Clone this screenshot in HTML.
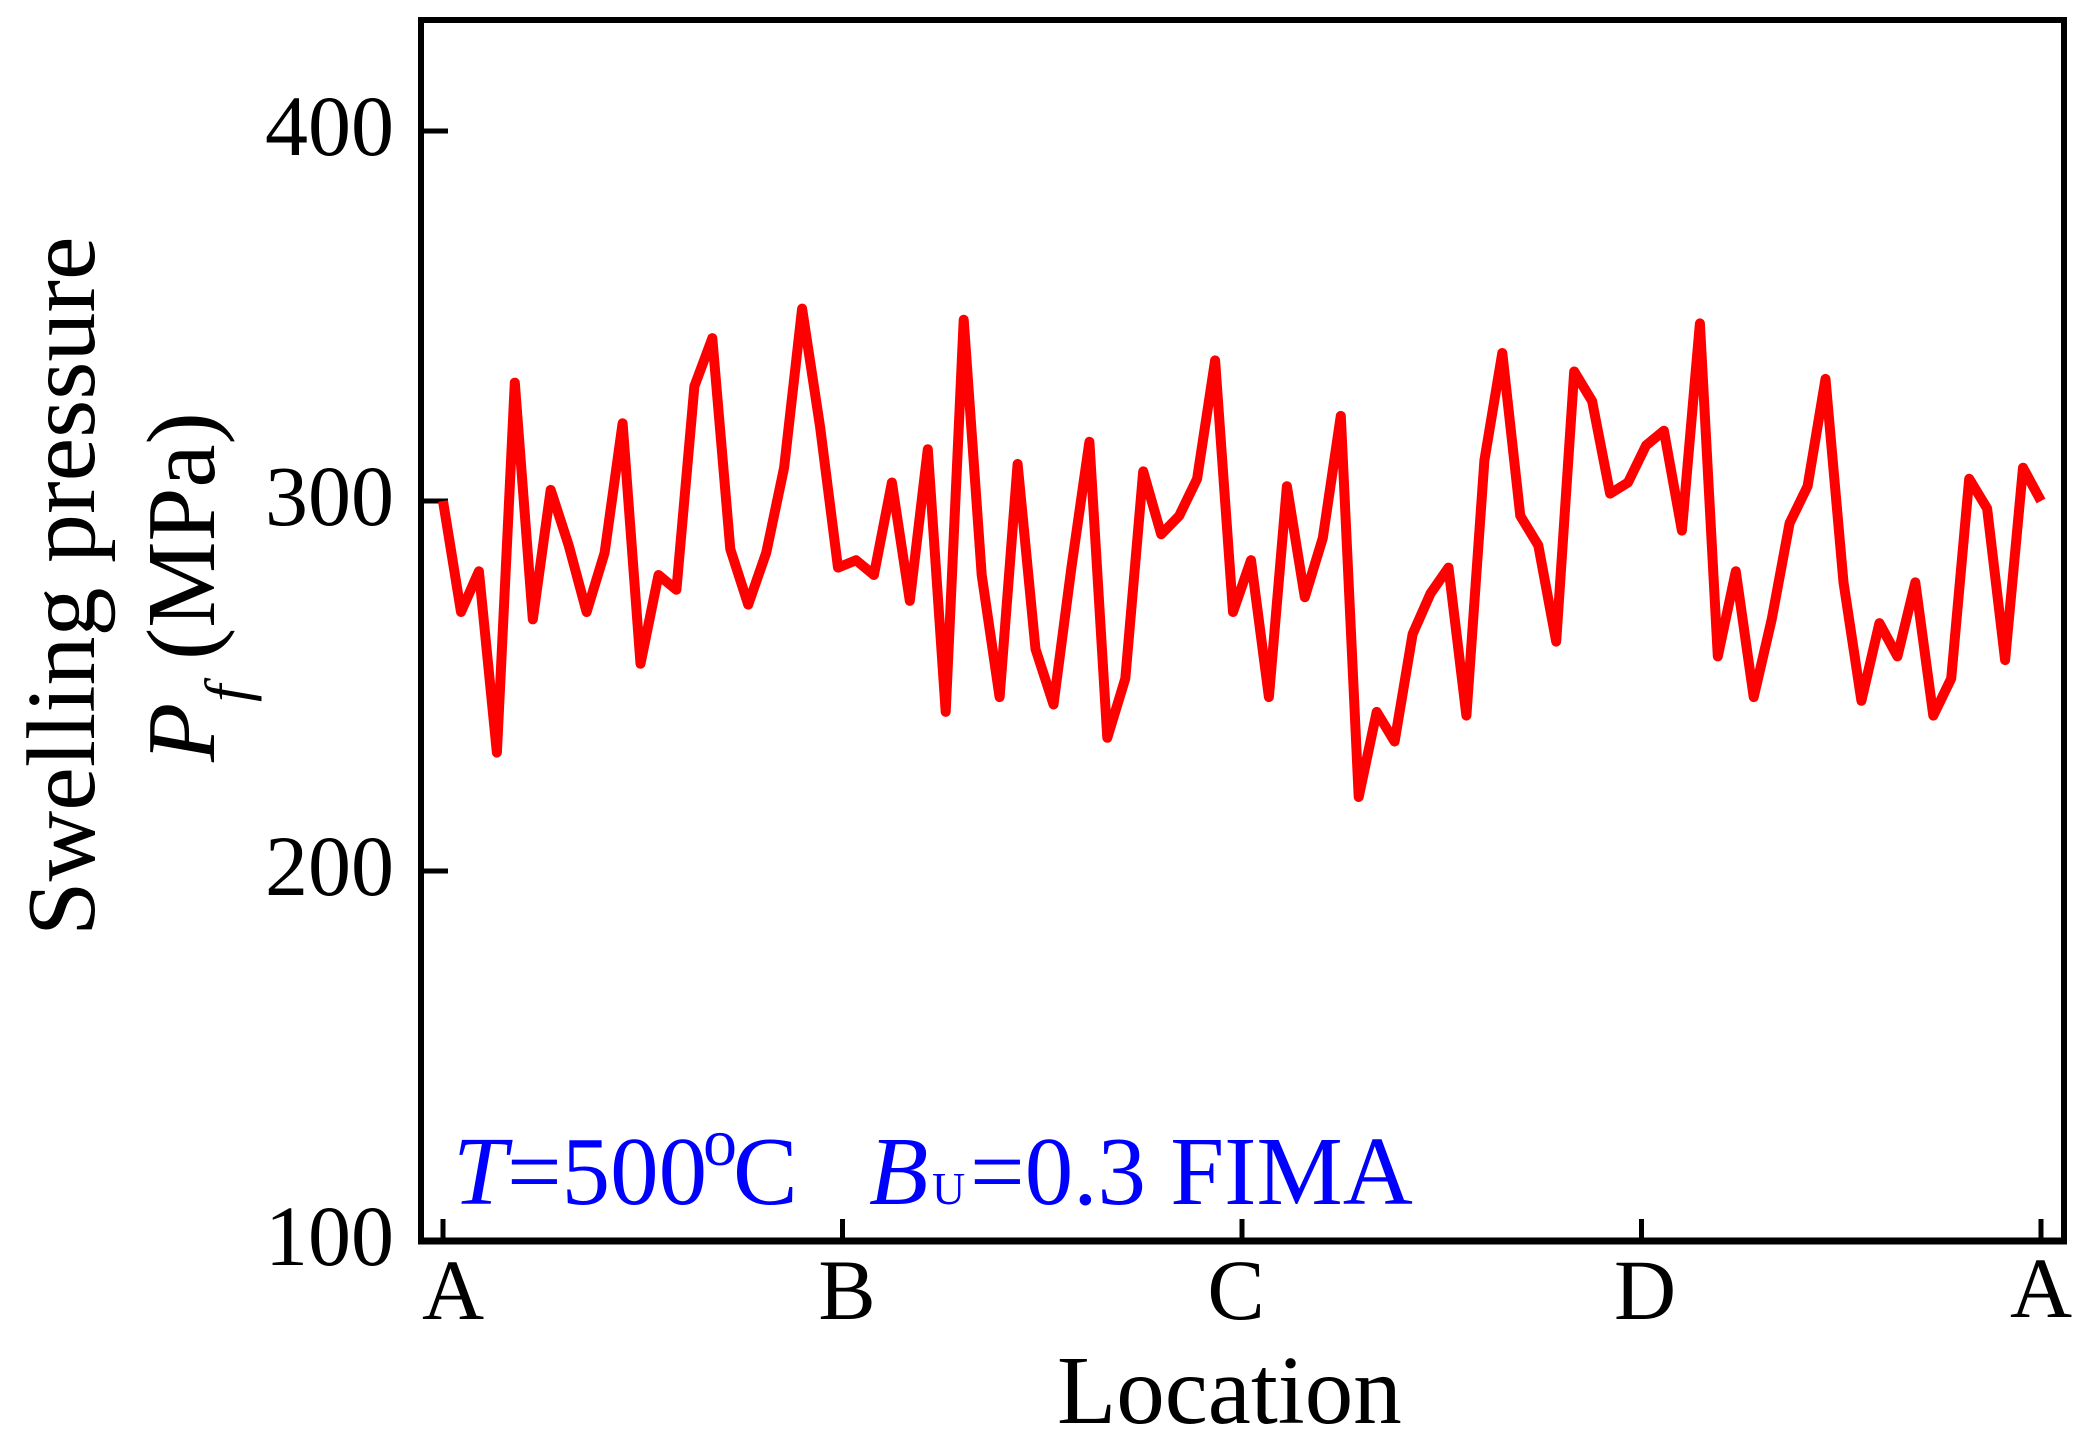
<!DOCTYPE html>
<html>
<head>
<meta charset="utf-8">
<title>Swelling pressure vs location</title>
<style>
html,body{margin:0;padding:0;background:#fff;}
svg{display:block;}
text{font-family:"Liberation Serif",serif;fill:#000;}
.blue{fill:#0000ff;}
</style>
</head>
<body>
<svg id="chart" xmlns="http://www.w3.org/2000/svg" width="2090" height="1440" viewBox="0 0 2090 1440">
  <rect x="0" y="0" width="2090" height="1440" fill="#fff"/>
  <g id="marks"></g>
  <rect x="421" y="20" width="1643" height="1221" fill="none" stroke="#000" stroke-width="6"/>
  <line x1="418" y1="1241" x2="2067" y2="1241" stroke="#000" stroke-width="7"/>

  <text x="453" y="1319" font-size="86" text-anchor="middle">A</text>
  <text x="847" y="1319" font-size="86" text-anchor="middle">B</text>
  <text x="1236" y="1319" font-size="86" text-anchor="middle">C</text>
  <text x="1645" y="1319" font-size="86" text-anchor="middle">D</text>
  <text x="2041" y="1317" font-size="86" text-anchor="middle">A</text>

  <text x="1057" y="1423" font-size="97">Location</text>

  <text transform="translate(94,936) rotate(-90)" font-size="98">Swelling pressure</text>
  <g>
    <text transform="translate(214,762) rotate(-90)" font-size="97" font-style="italic">P</text>
    <text transform="translate(248,702) rotate(-90)" font-size="62" font-style="italic">f</text>
    <text transform="translate(214,660) rotate(-90)" font-size="97">(MPa)</text>
  </g>

  <g>
    <text class="blue" x="453" y="1204" font-size="97"><tspan font-style="italic">T</tspan>=500</text>
    <text class="blue" x="703" y="1165" font-size="68">o</text>
    <text class="blue" x="733" y="1204" font-size="97">C</text>
    <text class="blue" x="869" y="1204" font-size="97" font-style="italic">B</text>
    <text class="blue" x="932" y="1204" font-size="46">U</text>
    <text class="blue" x="970" y="1204" font-size="97">=0.3 FIMA</text>
  </g>
</svg>
<script>
const yTickValues = [100, 200, 300, 400];
const yTickLabels = ["100", "200", "300", "400"];
const xTickLocations = [0, 1, 2, 3, 4];
const pressureValues = [
  300, 270, 281, 232, 332, 268, 303, 288, 270, 286,
  321, 256, 280, 276, 331, 344, 287, 272, 286, 309,
  352, 320, 282, 284, 280, 305, 273, 314, 243, 349,
  280, 247, 310, 260, 245, 282, 316, 236, 252, 308,
  291, 296, 306, 338, 270, 284, 247, 304, 274, 290,
  323, 220, 243, 235, 264, 275, 282, 242, 311, 340,
  296, 288, 262, 335, 327, 302, 305, 315, 319, 292,
  348, 258, 281, 247, 268, 294, 304, 333, 278, 246,
  267, 258, 278, 242, 252, 306, 298, 257, 309, 300
];

const SVG_NS = "http://www.w3.org/2000/svg";
const marks = document.getElementById("marks");

function yScale(value) {
  return 1241 - (value - 100) * 3.7;
}
function xScale(location) {
  return 443 + location * 399.5;
}
function pointLocation(index) {
  return index * 4 / (pressureValues.length - 1);
}

yTickValues.forEach(function (value, i) {
  const tick = document.createElementNS(SVG_NS, "line");
  
  
  tick.setAttribute("x1", 421);
  tick.setAttribute("x2", 448);
  tick.setAttribute("y1", yScale(value));
  tick.setAttribute("y2", yScale(value));
  tick.setAttribute("stroke", "#000");
  tick.setAttribute("stroke-width", 5);
  marks.appendChild(tick);

  const label = document.createElementNS(SVG_NS, "text");
  
  
  label.setAttribute("x", 394);
  label.setAttribute("y", yScale(value) + 24);
  label.setAttribute("font-size", 86);
  label.setAttribute("text-anchor", "end");
  label.textContent = yTickLabels[i];
  marks.appendChild(label);
});

xTickLocations.forEach(function (location) {
  const tick = document.createElementNS(SVG_NS, "line");
  
  
  tick.setAttribute("x1", xScale(location));
  tick.setAttribute("x2", xScale(location));
  tick.setAttribute("y1", 1241);
  tick.setAttribute("y2", 1219);
  tick.setAttribute("stroke", "#000");
  tick.setAttribute("stroke-width", 5);
  marks.appendChild(tick);
});

const path = document.createElementNS(SVG_NS, "polyline");


path.setAttribute("points", pressureValues.map(function (value, i) {
  return xScale(pointLocation(i)).toFixed(1) + "," + yScale(value).toFixed(1);
}).join(" "));
path.setAttribute("fill", "none");
path.setAttribute("stroke", "#ff0000");
path.setAttribute("stroke-width", 10);
path.setAttribute("stroke-linejoin", "round");
marks.appendChild(path);
</script>
</body>
</html>
